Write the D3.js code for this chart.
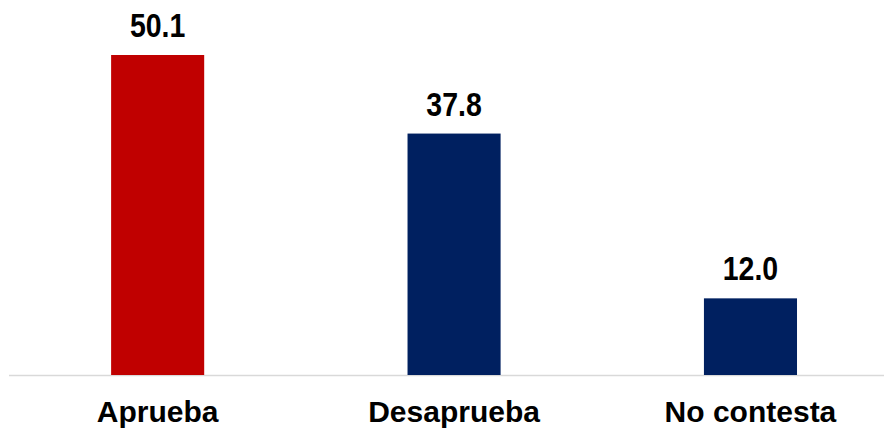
<!DOCTYPE html>
<html>
<head>
<meta charset="utf-8">
<script src="https://cdn.jsdelivr.net/npm/d3@7"></script>
<style>
  body { margin: 0; background: #fff; }
  svg text { font-family: "Liberation Sans", Arial, sans-serif; font-weight: bold; fill: #000; }
</style>
</head>
<body>
<svg></svg>
<script>
const categories = ['Aprueba', 'Desaprueba', 'No contesta'];
const values = [50.1, 37.8, 12.0];
const barColors = ['#C00000', '#002060', '#002060'];

document.addEventListener('DOMContentLoaded', function () {
    const width = 887;
    const height = 429;

    const svg = d3.select('svg')
        .attr('width', width)
        .attr('height', height);

    const x = d3.scaleBand()
        .domain(categories)
        .range([9, 884])
        .paddingInner(0.686)
        .paddingOuter(0.319)
        .align(0.54);

    const y = d3.scaleLinear()
        .domain([0, 50.1])
        .range([375, 55]);

    // baseline
    svg.append('line')
        .attr('x1', 9)
        .attr('x2', 884)
        .attr('y1', y(0) + 0.5)
        .attr('y2', y(0) + 0.5)
        .attr('stroke', '#d9d9d9')
        .attr('stroke-width', 1.5);

    svg.append('g')
        .selectAll('rect')
        .data(values)
        .enter().append('rect')
        .attr('x', (d, i) => x(categories[i]))
        .attr('y', d => y(d))
        .attr('width', x.bandwidth())
        .attr('height', d => y(0) - y(d))
        .attr('fill', (d, i) => barColors[i]);

    // value labels, slightly taller than plain bold
    svg.append('g')
        .selectAll('text')
        .data(values)
        .enter().append('text')
        .attr('transform', (d, i) =>
            `translate(${x(categories[i]) + x.bandwidth() / 2},${y(d) - 18}) scale(0.95,1.08)`)
        .attr('text-anchor', 'middle')
        .attr('font-size', 30)
        .text(d => d.toFixed(1));

    svg.append('g')
        .selectAll('text')
        .data(categories)
        .enter().append('text')
        .attr('x', d => x(d) + x.bandwidth() / 2)
        .attr('y', 422)
        .attr('text-anchor', 'middle')
        .attr('font-size', 30)
        .text(d => d);
});
</script>
</body>
</html>
